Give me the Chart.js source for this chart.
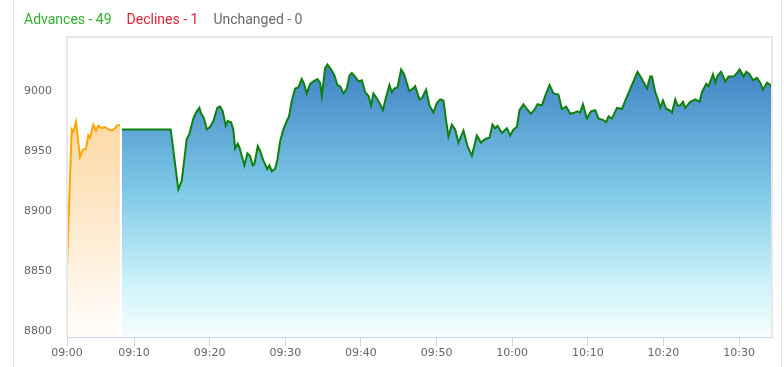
<!DOCTYPE html>
<html>
<head>
<meta charset="utf-8">
<script src="https://cdn.jsdelivr.net/npm/chart.js@4/dist/chart.umd.min.js"></script>
<style>
  html, body { margin: 0; padding: 0; background: #fff; }
  #wrap { position: relative; width: 784px; height: 367px; overflow: hidden; }
  #frame { position: absolute; left: 13px; top: 0; width: 767px; height: 367px;
           border-left: 1px solid #e3e3e3; border-right: 1px solid #e3e3e3; }
  #legend { position: absolute; left: 24px; top: 11px; font: 14px Roboto, sans-serif; white-space: nowrap; }
  #legend span { margin-right: 15px; }
  #mychart { position: absolute; left: 0; top: 0; }
</style>
</head>
<body>
<div id="wrap">
  <div id="frame"></div>
  <canvas id="mychart" width="784" height="367"></canvas>
  <div id="legend"></div>
</div>
<script>
// minutes on the chart's time axis
const preTimes = [1.14, 1.45, 1.76, 1.97, 2.33, 2.86, 3.21, 3.65, 3.96, 4.18, 4.62, 4.97, 5.28, 5.73, 6.16, 6.6, 7.05, 7.49, 7.71, 8.15];
const preValues = [8852, 8912, 8968, 8966, 8974, 8945, 8951, 8952, 8963, 8961, 8972, 8967, 8971, 8969, 8970, 8968, 8967, 8969, 8971, 8972];

const mktTimes = [8.4, 14.85, 15.86, 16.31, 16.97, 17.31, 17.84, 18.2, 18.64, 18.82,
  19.26, 19.62, 20.05, 20.49, 21.02, 21.38, 21.73, 22.13, 22.39, 22.83,
  23.13, 23.36, 23.72, 23.93, 24.25, 24.59, 24.99, 25.34, 25.7, 25.91,
  26.36, 26.67, 27.1, 27.63, 27.9, 28.21, 28.65, 28.96, 29.31, 29.75,
  30.2, 30.5, 30.86, 31.3, 31.73, 32.18, 32.49, 32.84, 33.28, 33.72,
  34.25, 34.6, 34.83, 35.26, 35.57, 36.15, 36.5, 36.89, 37.25, 37.69,
  38.14, 38.48, 38.8, 39.23, 39.67, 40.12, 40.56, 40.99, 41.35, 41.65,
  42.1, 42.54, 42.9, 43.33, 43.77, 44.09, 44.39, 44.83, 45.32, 45.71,
  46.38, 46.87, 47.17, 47.74, 48.06, 48.62, 49.06, 49.59, 50.04, 50.48,
  50.91, 51.23, 51.57, 52.02, 52.46, 52.9, 53.56, 54.09, 54.67, 55.33,
  55.86, 56.43, 57, 57.39, 57.75, 58.06, 58.64, 59.3, 59.74, 60.17,
  60.62, 60.97, 61.49, 61.94, 62.47, 62.91, 63.35, 63.93, 64.37, 64.93,
  65.46, 66.12, 66.57, 67.14, 67.67, 68.2, 68.64, 68.99, 69.35, 69.88,
  70.41, 70.98, 71.42, 72, 72.43, 72.74, 73.19, 73.85, 74.51, 74.95,
  75.83, 76.57, 77.16, 77.82, 78.25, 78.48, 78.92, 79.22, 79.58, 79.94,
  80.37, 80.81, 81.13, 81.56, 81.87, 82.22, 82.58, 82.88, 83.54, 84.21,
  84.78, 85.09, 85.66, 85.97, 86.55, 86.85, 87.16, 87.61, 88.18, 88.62,
  89.28, 89.72, 90.07, 90.6, 90.95, 91.39, 91.84, 92.37, 92.8, 93.16,
  93.69, 94.13, 94.35];
const mktValues = [8968, 8968, 8918, 8925, 8960, 8964, 8977, 8982, 8986, 8982,
  8977, 8968, 8970, 8975, 8986, 8987, 8983, 8971, 8975, 8974,
  8968, 8952, 8956, 8953, 8946, 8938, 8948, 8946, 8938, 8939,
  8954, 8950, 8942, 8935, 8938, 8933, 8935, 8943, 8958, 8968,
  8975, 8979, 8992, 9002, 9003, 9010, 9006, 8998, 9006, 9008,
  9010, 9007, 8996, 9019, 9022, 9017, 9013, 9005, 9004, 8998,
  9002, 9013, 9015, 9012, 9008, 9009, 8999, 8996, 8988, 8998,
  8994, 8989, 8984, 8995, 9005, 8999, 9002, 9003, 9018, 9014,
  9000, 9002, 9004, 8993, 8994, 9001, 8988, 8982, 8990, 8993,
  8992, 8977, 8962, 8972, 8968, 8957, 8967, 8954, 8946, 8963,
  8957, 8960, 8961, 8972, 8969, 8971, 8965, 8969, 8963, 8968,
  8970, 8984, 8989, 8985, 8981, 8984, 8989, 8988, 8996, 9005,
  8998, 8997, 8985, 8987, 8981, 8982, 8983, 8982, 8989, 8977,
  8983, 8984, 8977, 8976, 8974, 8979, 8977, 8986, 8985, 8992,
  9005, 9016, 9010, 9002, 9012, 9012, 8999, 8994, 8986, 8992,
  8985, 8984, 8982, 8993, 8988, 8988, 8991, 8986, 8991, 8993,
  8991, 8999, 9006, 9004, 9014, 9007, 9013, 9016, 9008, 9012,
  9012, 9015, 9018, 9012, 9016, 9014, 9009, 9011, 9007, 9001,
  9007, 9005, 9002];

const tickMinutes = [1.14, 10, 20, 30, 40, 50, 60, 70, 80, 90];
const tickLabels = ['09:00', '09:10', '09:20', '09:30', '09:40', '09:50', '10:00', '10:10', '10:20', '10:30'];
const yTicks = [8800, 8850, 8900, 8950, 9000];

const legendNames = ['Advances', 'Declines', 'Unchanged'];
const legendCounts = [49, 1, 0];
const legendColors = ['#2eae2e', '#e2223e', '#6b6b6b'];

const legend = document.getElementById('legend');
legendNames.forEach((n, i) => {
    const s = document.createElement('span');
    s.style.color = legendColors[i];
    s.textContent = n + ' - ' + legendCounts[i];
    legend.appendChild(s);
});

function toPoints(xs, ys) {
    return xs.map((x, i) => ({ x: x, y: ys[i] }));
}

function blueFill(c) {
    const a = c.chart.chartArea;
    if (!a) return null;
    const g = c.chart.ctx.createLinearGradient(0, a.top + 28, 0, a.bottom);
    g.addColorStop(0, '#3f82c4');
    g.addColorStop(0.45, '#7cc7e6');
    g.addColorStop(0.8, '#ccf2f9');
    g.addColorStop(1, '#f7feff');
    return g;
}

function orangeFill(c) {
    const a = c.chart.chartArea;
    if (!a) return null;
    const g = c.chart.ctx.createLinearGradient(0, a.top + 88, 0, a.bottom);
    g.addColorStop(0, '#fdd9a6');
    g.addColorStop(1, '#fffdfb');
    return g;
}

const frame = {
    id: 'frame',
    afterDatasetsDraw(chart) {
        const { ctx, chartArea: a } = chart;
        ctx.save();
        ctx.strokeStyle = '#e8e8e8';
        ctx.lineWidth = 2;
        ctx.beginPath();
        ctx.moveTo(a.left, a.bottom);
        ctx.lineTo(a.left, a.top);
        ctx.lineTo(a.right, a.top);
        ctx.lineTo(a.right, a.bottom);
        ctx.stroke();
        ctx.restore();
    }
};

const ctx = document.getElementById('mychart');

new Chart(ctx, {
    type: 'line',
    data: {
        datasets: [{
            data: toPoints(preTimes, preValues),
            borderColor: '#ffa500',
            borderWidth: 2,
            backgroundColor: orangeFill,
            fill: 'start',
            pointRadius: 0,
            tension: 0
        }, {
            data: toPoints(mktTimes, mktValues),
            borderColor: '#0e800e',
            borderWidth: 2,
            backgroundColor: blueFill,
            fill: 'start',
            pointRadius: 0,
            tension: 0
        }]
    },
    options: {
        responsive: false,
        animation: false,
        devicePixelRatio: 1,
        layout: { padding: { top: 37, right: 12, left: 0, bottom: 0 } },
        plugins: {
            legend: { display: false },
            tooltip: { enabled: false }
        },
        scales: {
            x: {
                type: 'linear',
                min: 1.14,
                max: 94.35,
                afterBuildTicks: (s) => { s.ticks = tickMinutes.map(v => ({ value: v })); },
                afterFit: (s) => { s.height = 30; },
                grid: { display: true, drawOnChartArea: false, drawTicks: true, tickLength: 9, color: '#ccd6eb' },
                border: { display: true, color: '#ccd6eb', width: 1 },
                ticks: {
                    autoSkip: false,
                    maxRotation: 0,
                    padding: 1,
                    color: '#666666',
                    font: { family: 'DejaVu Sans', size: 11 },
                    callback: (v, i) => tickLabels[i]
                }
            },
            y: {
                min: 8795,
                max: 9045,
                afterBuildTicks: (s) => { s.ticks = yTicks.map(v => ({ value: v })); },
                afterFit: (s) => { s.width = 67; },
                grid: { display: false, drawTicks: false },
                border: { display: false },
                ticks: {
                    padding: 15,
                    color: '#666666',
                    font: { family: 'DejaVu Sans', size: 11 },
                    callback: (v) => String(v)
                }
            }
        }
    },
    plugins: [frame]
});
</script>
</body>
</html>
